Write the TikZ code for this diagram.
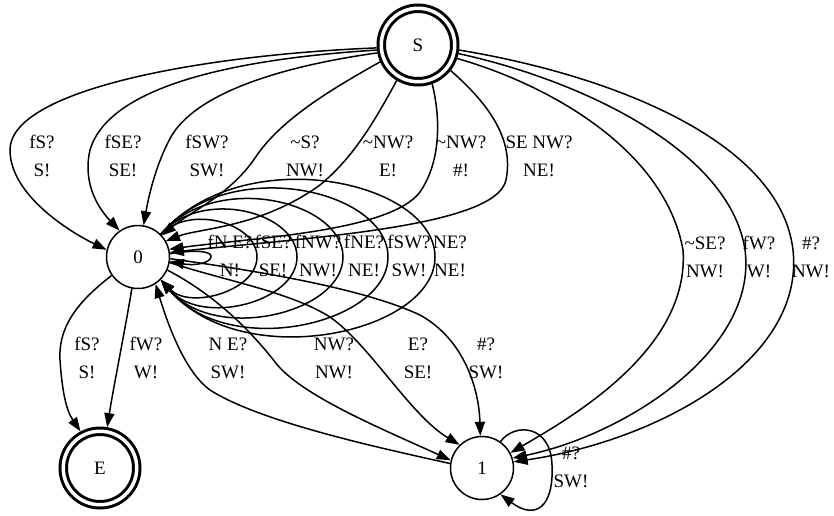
\documentclass[tikz,border=0pt]{standalone}
\usepackage{fontspec}
\setmainfont{Liberation Serif}
\usetikzlibrary{arrows.meta}
\begin{document}
\begin{tikzpicture}[x=1pt,y=1pt,
  edge/.style={line width=1.5pt, -{Triangle[length=14pt,width=10pt]}},
  st/.style={circle, draw, line width=1.5pt, minimum size=63pt, inner sep=0pt, font=\fontsize{19}{23}\selectfont},
  acc/.style={circle, draw, line width=3pt, double, double distance=3.5pt, minimum size=73.5pt, outer sep=4.75pt, inner sep=0pt, font=\fontsize{19}{23}\selectfont},
  lab/.style={align=center, inner sep=0pt, font=\fontsize{19}{28}\selectfont}]
\useasboundingbox (0,0) rectangle (834,-515);
% nodes
\node[acc] (S) at (418,-45) {S};
\node[st] (n0) at (138,-257) {0};
\node[acc] (E) at (100,-468) {E};
\node[st] (n1) at (482,-468) {1};
% S -> 0
\draw[edge] (S.184) .. controls (200,-55) and (10,-90) .. (10,-150) .. controls (10,-195) and (70,-232) .. (n0.167);
\draw[edge] (S.187) .. controls (250,-58) and (110,-82) .. (90,-150) .. controls (82,-185) and (100,-210) .. (n0.125);
\draw[edge] (S.191) .. controls (290,-65) and (200,-90) .. (172,-135) .. controls (155,-165) and (148,-200) .. (n0.80);
\draw[edge] (S.204) .. controls (330,-90) and (280,-120) .. (255,-158) .. controls (230,-195) and (190,-212) .. (n0.42);
\draw[edge] (S.239) .. controls (370,-130) and (350,-160) .. (320,-185) .. controls (260,-228) and (200,-228) .. (n0.30);
\draw[edge] (S.290) .. controls (440,-115) and (442,-160) .. (420,-192) .. controls (390,-232) and (250,-238) .. (n0.14);
\draw[edge] (S.322) .. controls (490,-105) and (514,-140) .. (506,-180) .. controls (496,-228) and (300,-238) .. (n0.8);
% self loops on 0
\draw[edge] (n0.6) .. controls (200,-249) and (212,-252) .. (211,-257) .. controls (210,-263) and (195,-266) .. (n0.-8);
\draw[edge] (n0.45) .. controls (190,-204.3) and (257,-223) .. (257,-257) .. controls (257,-291) and (190,-309.7) .. (n0.-45);
\draw[edge] (n0.45) .. controls (202,-187.3) and (297,-212) .. (297,-257) .. controls (297,-302) and (202,-326.7) .. (n0.-45);
\draw[edge] (n0.45) .. controls (215.6,-170.2) and (343,-201) .. (343,-257) .. controls (343,-313) and (215.6,-343.8) .. (n0.-45);
\draw[edge] (n0.45) .. controls (229,-153.2) and (388,-190) .. (388,-257) .. controls (388,-324) and (229,-360.8) .. (n0.-45);
\draw[edge] (n0.45) .. controls (243,-139.2) and (435,-181) .. (435,-257) .. controls (435,-333) and (243,-374.8) .. (n0.-45);
% S -> 1
\draw[edge] (S.-19) .. controls (550,-85) and (665,-150) .. (683,-250) .. controls (690,-350) and (570,-418) .. (n1.28);
\draw[edge] (S.-12) .. controls (580,-80) and (730,-150) .. (745,-250) .. controls (758,-350) and (625,-435) .. (n1.18);
\draw[edge] (S.-7) .. controls (610,-75) and (780,-140) .. (793,-250) .. controls (805,-360) and (660,-440) .. (n1.11);
% 0 -> E
\draw[edge] (n0.215) .. controls (80,-300) and (58,-325) .. (60,-360) .. controls (62,-390) and (66,-410) .. (E.118);
\draw[edge] (n0.259) .. controls (125,-330) and (113,-390) .. (E.80);
% 0 -> 1
\draw[edge] (n0.336) .. controls (215,-295) and (250,-330) .. (275,-362) .. controls (300,-395) and (380,-428) .. (n1.166);
\draw[edge] (n0.350) .. controls (230,-282) and (290,-292) .. (330,-317) .. controls (370,-345) and (410,-415) .. (n1.134);
\draw[edge] (n0.357) .. controls (250,-270) and (360,-287) .. (420,-315) .. controls (465,-340) and (479,-390) .. (n1.93);
% 1 -> 0
\draw[edge] (n1.172) .. controls (380,-448) and (260,-422) .. (210,-390) .. controls (185,-372) and (168,-325) .. (n0.303);
% self loop on 1
\draw[edge] (n1.55) .. controls (515,-422) and (551,-425) .. (552,-465) .. controls (554,-508) and (535,-520) .. (n1.-55);
% labels
\node[lab] (a1) at (42,-156) {fS?\\S!};
\node[lab] (a2) at (123,-156) {fSE?\\SE!};
\node[lab] (a3) at (207,-156) {fSW?\\SW!};
\node[lab] (a4) at (305,-156) {\textasciitilde S?\\NW!};
\node[lab] (a5) at (388,-156) {\textasciitilde NW?\\E!};
\node[lab] (a6) at (461,-156) {\textasciitilde NW?\\\#!};
\node[lab] (a7) at (539,-156) {SE NW?\\NE!};
\node[lab] (b1) at (230,-256) {fN E?\\N!};
\node[lab] (b2) at (273,-256) {fSE?\\SE!};
\node[lab] (b3) at (318,-256) {fNW?\\NW!};
\node[lab] (b4) at (364,-256) {fNE?\\NE!};
\node[lab] (b5) at (409,-256) {fSW?\\SW!};
\node[lab] (b6) at (450,-256) {NE?\\NE!};
\node[lab] (c1) at (705,-257) {\textasciitilde SE?\\NW!};
\node[lab] (c2) at (759,-257) {fW?\\W!};
\node[lab] (c3) at (811,-257) {\#?\\NW!};
\node[lab] (d1) at (87,-358) {fS?\\S!};
\node[lab] (d2) at (146,-358) {fW?\\W!};
\node[lab] (d3) at (228,-358) {N E?\\SW!};
\node[lab] (d4) at (334,-358) {NW?\\NW!};
\node[lab] (d5) at (418,-358) {E?\\SE!};
\node[lab] (d6) at (486,-358) {\#?\\SW!};
\node[lab] (e1) at (571,-467) {\#?\\SW!};
\end{tikzpicture}
\end{document}
